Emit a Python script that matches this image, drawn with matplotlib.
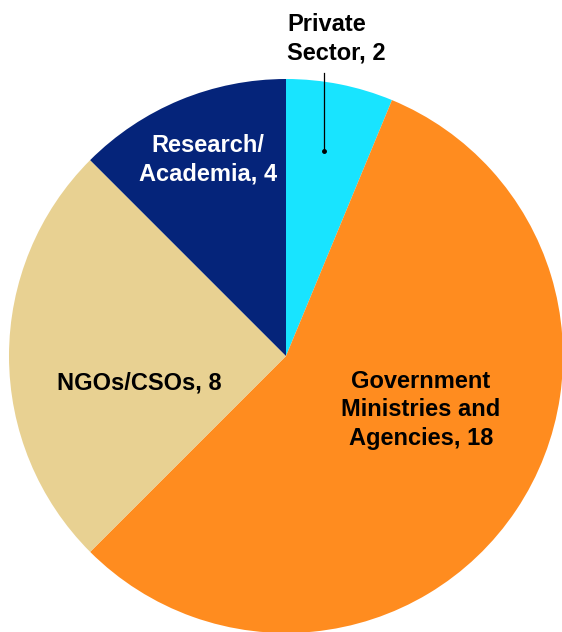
import matplotlib.pyplot as plt

# stakeholder counts
sectors = ["Private Sector", "Government Ministries and Agencies", "NGOs/CSOs", "Research/Academia"]
counts = [2, 18, 8, 4]
colors = ["#18E4FF", "#FF8C1F", "#E8D192", "#05247A"]

plt.rcParams['font.family'] = ['Liberation Sans', 'DejaVu Sans']

fig = plt.figure(figsize=(5.62, 6.32), dpi=100)
ax = fig.add_axes([0, 0, 1, 1])
ax.set_xlim(0, 562)
ax.set_ylim(0, 632)
ax.set_aspect('equal')
ax.axis('off')

ax.pie(counts, colors=colors, startangle=90, counterclock=False,
       center=(286, 632 - 356), radius=277,
       wedgeprops=dict(linewidth=0))
ax.set_xlim(0, 562)
ax.set_ylim(0, 632)

kw = dict(va='center', fontsize=17, fontweight='bold', linespacing=1.33)
ax.text(287, 632 - 39, "Private\nSector, %d" % counts[0], color='black', ha='left', **kw)
ax.text(421, 632 - 410, "Government\nMinistries and\nAgencies, %d" % counts[1], color='black', ha='center', **kw)
ax.text(139, 632 - 383, "NGOs/CSOs, %d" % counts[2], color='black', ha='center', **kw)
ax.text(208, 632 - 160, "Research/\nAcademia, %d" % counts[3], color='white', ha='center', **kw)

# leader line for the small slice
ax.plot([324, 324], [632 - 73, 632 - 151], color='black', lw=0.9)
ax.plot([324], [632 - 151], 'o', color='black', ms=2.5)

fig.savefig("out.png", dpi=100)
